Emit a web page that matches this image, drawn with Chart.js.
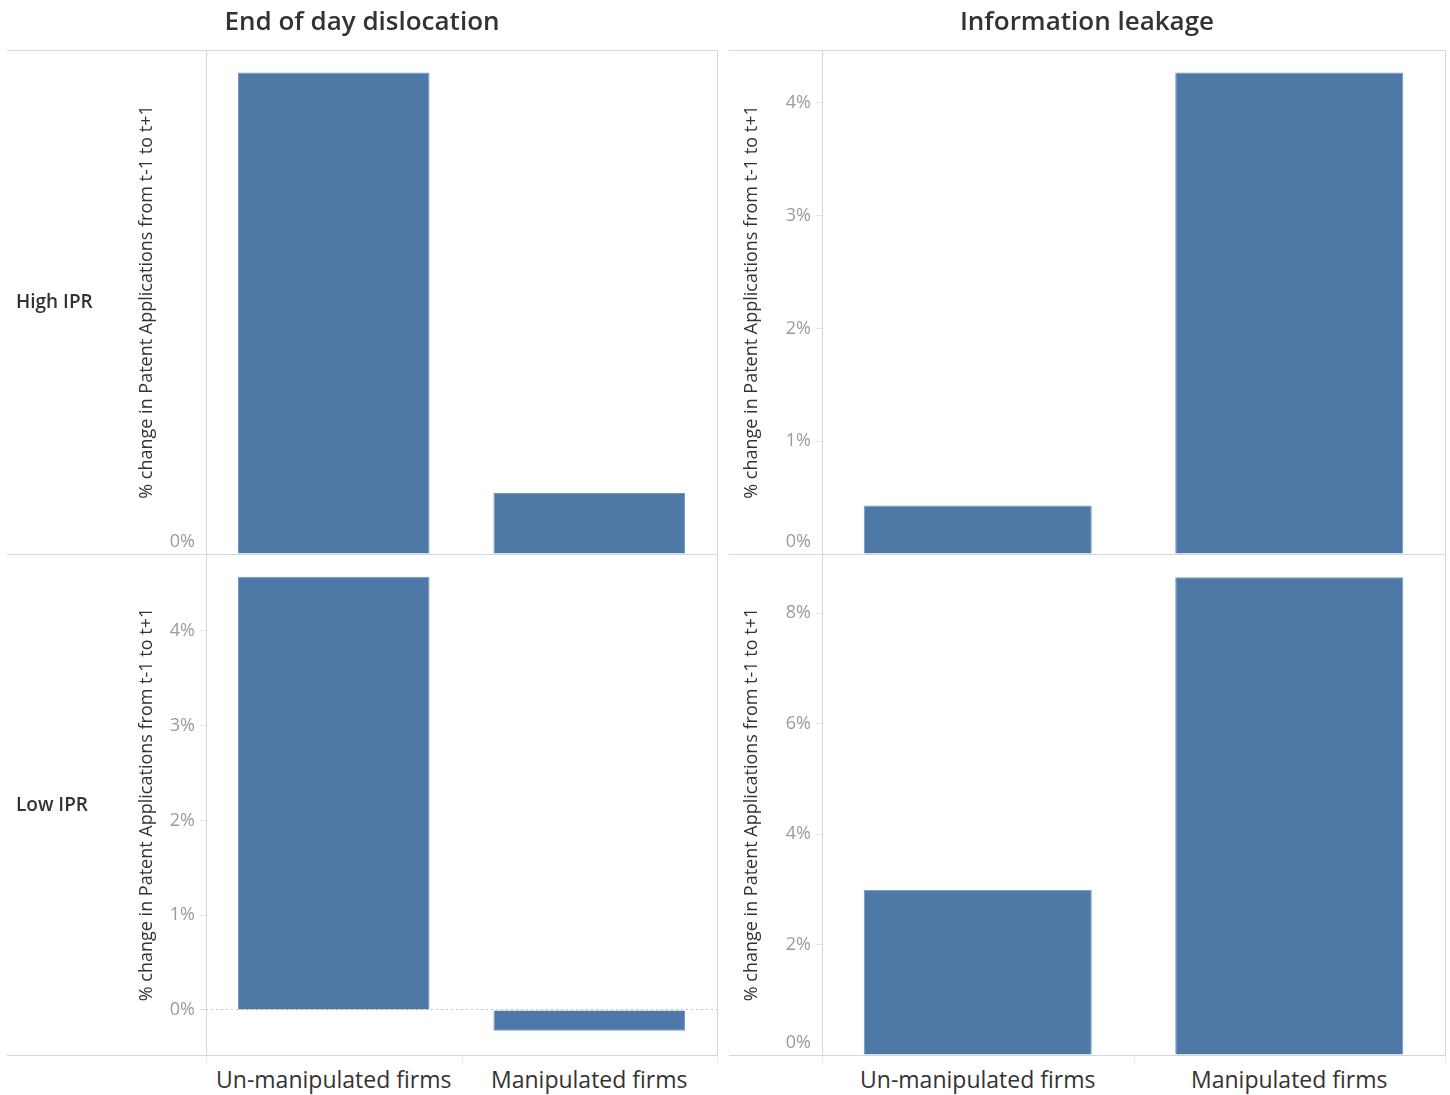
<!DOCTYPE html>
<html>
<head>
<meta charset="utf-8">
<script src="https://cdn.jsdelivr.net/npm/chart.js@4.4.0/dist/chart.umd.min.js"></script>
<style>
  body { margin: 0; background: #fff; font-family: "Open Sans", sans-serif; color: #333; }
  #page { position: relative; width: 1450px; height: 1095px; overflow: hidden; }
  .hline { position: absolute; height: 1px; background: #d6d6d6; }
  .vline { position: absolute; width: 1px; background: #d6d6d6; }
  .faint { background: #ececec; }
  .title { position: absolute; top: 2px; font-size: 26px; font-weight: 600; text-align: center; white-space: nowrap; color: #333; }
  .rowlab { position: absolute; left: 16px; font-size: 19px; font-weight: 600; white-space: nowrap; color: #333; }
  .xlab { position: absolute; top: 1063px; font-size: 23px; text-align: center; white-space: nowrap; color: #333; }
  canvas.pane { position: absolute; }
</style>
</head>
<body>
<div id="page"></div>
<script>
const columns = ['End of day dislocation', 'Information leakage'];
const rowLabels = ['High IPR', 'Low IPR'];
const categories = ['Un-manipulated firms', 'Manipulated firms'];

// % change in patent applications
const eodHigh = [4.27, 0.54];
const eodLow = [4.57, -0.22];
const leakHigh = [0.43, 4.27];
const leakLow = [2.99, 8.65];

// tick labels shown on each pane
const eodHighTicks = [0];
const eodLowTicks = [0, 1, 2, 3, 4];
const leakHighTicks = [0, 1, 2, 3, 4];
const leakLowTicks = [0, 2, 4, 6, 8];

// axis ranges
const eodHighRange = [0, 4.47];
const eodLowRange = [-0.475, 4.81];
const leakHighRange = [0, 4.47];
const leakLowRange = [0, 9.07];

const page = document.getElementById('page');
const BAR = '#4e79a7';
const AXIS_TITLE = '% change in Patent Applications from t-1 to t+1';

function el(cls, style, text) {
  const d = document.createElement('div');
  d.className = cls;
  Object.assign(d.style, style);
  if (text) d.textContent = text;
  page.appendChild(d);
  return d;
}

// column groups: [left, right, axis x]
const groups = [[7, 717, 206], [729, 1445, 822]];
const rowY = [50, 554, 1055];

groups.forEach(([l, r, ax], i) => {
  rowY.forEach(y => el('hline', { left: l + 'px', top: y + 'px', width: (r - l) + 'px' }));
  el('vline', { left: r + 'px', top: '50px', height: '1006px' });
  el('vline', { left: ax + 'px', top: '50px', height: '1006px' });
  const mid = Math.round(ax + (r - ax) / 2);
  [ax, mid, r].forEach(x => el('vline faint', { left: x + 'px', top: '1056px', height: '7px' }));
  el('title', { left: l + 'px', width: (r - l) + 'px' }, columns[i]);
});

rowLabels.forEach((t, i) => el('rowlab', { top: (rowY[i] + (rowY[i + 1] - rowY[i]) / 2 - 14) + 'px' }, t));

function makePane(o) {
  const c = document.createElement('canvas');
  c.className = 'pane';
  c.width = o.w; c.height = o.h;
  c.style.left = o.x + 'px'; c.style.top = o.y + 'px';
  c.style.width = o.w + 'px'; c.style.height = o.h + 'px';
  page.insertBefore(c, page.firstChild);

  new Chart(c, {
    type: 'bar',
    data: {
      labels: categories,
      datasets: [{
        data: o.values,
        backgroundColor: BAR,
        borderColor: '#7196c0',
        borderWidth: 1,
        barPercentage: o.barPct,
        categoryPercentage: 1
      }]
    },
    options: {
      responsive: false,
      animation: false,
      layout: { padding: 0 },
      plugins: { legend: { display: false }, tooltip: { enabled: false } },
      scales: {
        x: { display: false, offset: true, grid: { display: false } },
        y: {
          min: o.range[0],
          max: o.range[1],
          afterBuildTicks: s => { s.ticks = o.ticks.map(v => ({ value: v })); },
          afterFit: s => { s.width = o.axisW; s.paddingTop = 0; s.paddingBottom = 0; },
          border: { display: false, dash: [2, 3] },
          grid: {
            drawOnChartArea: !!o.zeroLine,
            color: ctx => (ctx.tick && ctx.tick.value === 0) ? '#c4c4c4' : 'rgba(0,0,0,0)',
            tickLength: 6,
            tickColor: '#e2e2e2',
            tickWidth: 1
          },
          ticks: {
            padding: 5,
            color: '#9a9a9a',
            font: { family: 'Open Sans', size: 18, lineHeight: 1.34 },
            callback: v => (v === o.range[0] && v === 0) ? ['0%', ''] : v + '%'
          },
          title: {
            display: true,
            text: AXIS_TITLE,
            color: '#333',
            font: { family: 'Open Sans', size: 18 },
            padding: { top: o.titlePad, bottom: 0 }
          }
        }
      }
    }
  });
}

makePane({ x: 7, y: 50, w: 710, h: 504, axisW: 199, titlePad: 129, barPct: 0.75,
  values: eodHigh, ticks: eodHighTicks, range: eodHighRange });
makePane({ x: 7, y: 554, w: 710, h: 501, axisW: 199, titlePad: 129, barPct: 0.75,
  values: eodLow, ticks: eodLowTicks, range: eodLowRange, zeroLine: true });
makePane({ x: 729, y: 50, w: 716, h: 504, axisW: 93, titlePad: 12, barPct: 0.732,
  values: leakHigh, ticks: leakHighTicks, range: leakHighRange });
makePane({ x: 729, y: 554, w: 716, h: 501, axisW: 93, titlePad: 12, barPct: 0.732,
  values: leakLow, ticks: leakLowTicks, range: leakLowRange });

// category headers under the bottom row
groups.forEach(([l, r, ax]) => {
  const bw = (r - ax) / categories.length;
  categories.forEach((t, i) => el('xlab', { left: (ax + bw * i) + 'px', width: bw + 'px' }, t));
});
</script>
</body>
</html>
